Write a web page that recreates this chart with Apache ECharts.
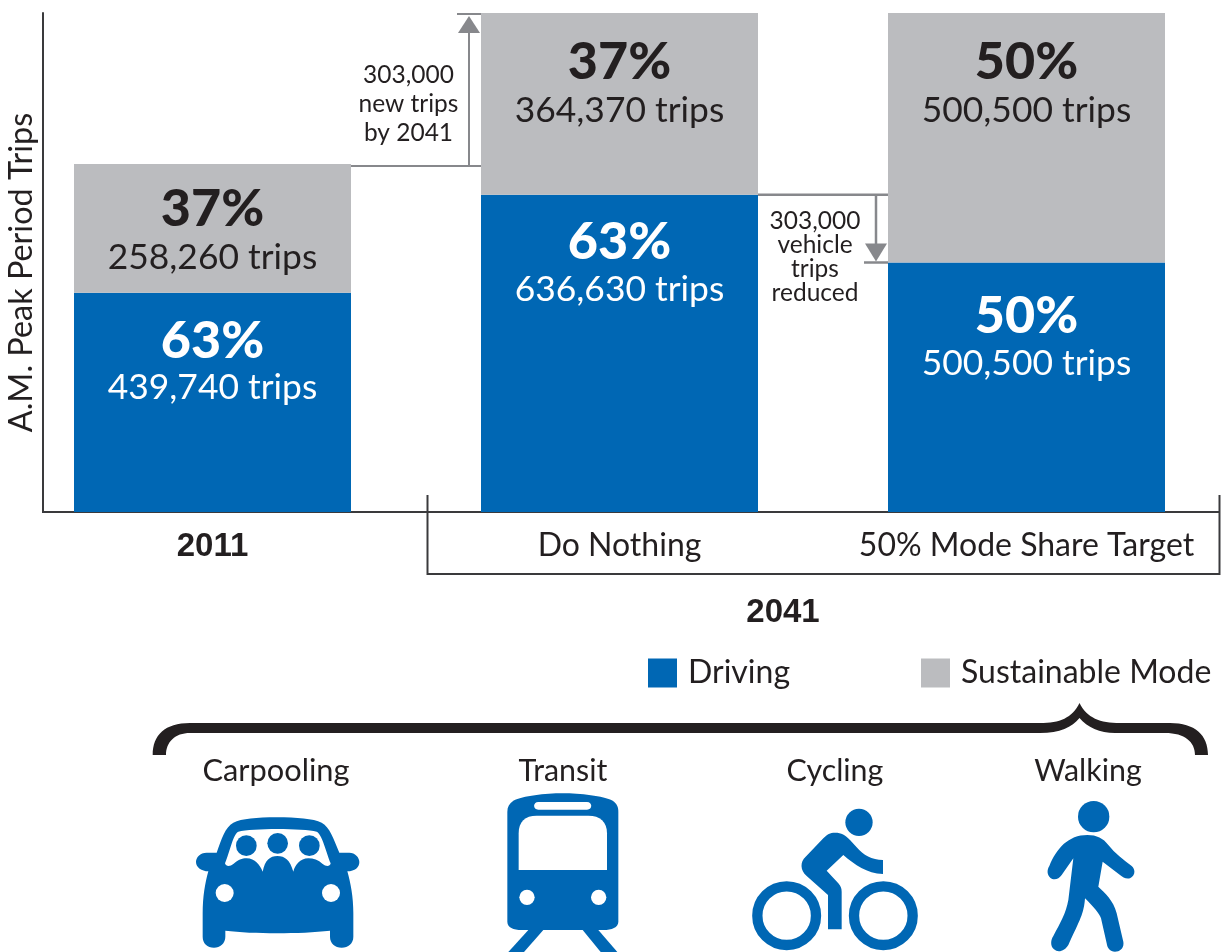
<!DOCTYPE html>
<html>
<head>
<meta charset="utf-8">
<title>A.M. Peak Period Trips</title>
<script src="https://cdn.jsdelivr.net/npm/echarts@6/dist/echarts.min.js"></script>
<style>
    html, body { margin: 0; padding: 0; background: #fff; }
    #main { width: 1225px; height: 952px; }
</style>
</head>
<body>
<div id="main"></div>
<script>
const categories = ['2011', 'Do Nothing', '50% Mode Share Target'];
const drivingTrips = [439740, 636630, 500500];
const sustainableTrips = [258260, 364370, 500500];
const drivingShare = [63, 63, 50];
const sustainableShare = [37, 37, 50];
const modeLabels = ['Carpooling', 'Transit', 'Cycling', 'Walking'];
const totalMax = 1001000;

const BLUE = '#0067b4';
const GREY = '#bbbcbf';
const DARK = '#231f20';
const ARROW = '#87888c';
const FONT = 'Lato';

// 막대별 라벨 세로 위치 보정
const drivingNudge = [1, 1, 7];
const sustainableNudge = [0, 4, 4];

function barLabel(shares, pctStyle) {
    return function (p) {
        return '{' + pctStyle + '|' + shares[p.dataIndex] + '%}\n{trips|' + p.value.toLocaleString('en-US') + ' trips}';
    };
}
function withNudge(values, nudge) {
    return values.map((v, i) => ({ value: v, label: { offset: [0, nudge[i]] } }));
}

// 아이콘은 확대 이미지 좌표 기준 (3배)
function iconGroup(x, y, children) {
    return { type: 'group', x: x, y: y, scaleX: 1 / 3, scaleY: 1 / 3, children: children };
}
function blob(pathData, fill) {
    return { type: 'path', shape: { pathData: pathData }, style: { fill: fill || BLUE } };
}
function dot(cx, cy, r, fill) {
    return { type: 'circle', shape: { cx: cx, cy: cy, r: r }, style: { fill: fill || BLUE } };
}
function ring(cx, cy, r) {
    return { type: 'circle', shape: { cx: cx, cy: cy, r: r }, style: { fill: 'none', stroke: BLUE, lineWidth: 31 } };
}

function renderDecor() {
    const brace = blob('M152.7 755 C152.7 735 165 723 190 723 L1040 723 C1060 723 1072 718 1079.5 703 C1087 718 1100 723 1120 723 L1170 723 C1195 723 1208 735 1208 755 L1195 755 C1195 742 1185 733 1165 733 L1115 733 C1100 733 1087 727 1079.5 718 C1072 727 1060 733 1040 733 L190 733 C175 733 166 742 166 755 Z', DARK);

    const car = iconGroup(140, 710, [
        blob('M410 322 C470 322 520 326 545 338 C570 352 580 385 598 428 L628 428 C645 428 658 442 658 456 C658 472 645 484 622 484 C632 520 640 560 640 610 L640 680 C640 700 625 713 605 713 C585 713 570 700 570 680 L570 662 C480 672 340 672 256 662 L256 680 C256 700 240 713 222 713 C202 713 188 700 188 680 L188 610 C188 560 195 520 205 484 C185 484 168 472 168 456 C168 442 180 428 200 428 L230 428 C245 385 255 352 280 338 C305 326 350 322 410 322 Z'),
        blob('M412 357 C460 357 510 360 530 365 C545 370 560 430 572 460 C570 470 558 470 548 462 C535 450 520 445 505 445 C480 445 465 465 460 485 C450 450 435 438 412 438 C390 438 375 450 368 485 C360 465 345 445 320 445 C305 445 295 450 280 462 C270 470 258 470 255 460 C268 430 280 370 295 365 C315 360 365 357 412 357 Z', '#fff'),
        dot(319, 407, 31), dot(413, 400, 31), dot(508, 407, 31),
        dot(254, 549, 27, '#fff'), dot(573, 549, 27, '#fff')
    ]);

    const train = iconGroup(480, 780, [
        blob('M145 450 L190 450 L132 516 L85 516 Z'),
        blob('M308 450 L355 450 L412 516 L362 516 Z'),
        blob('M248 40 C300 40 370 48 398 62 C410 70 415 80 415 95 L415 425 C415 442 395 450 370 450 L125 450 C100 450 82 442 82 425 L82 95 C82 80 88 70 100 62 C128 48 195 40 248 40 Z'),
        blob('M116 270 L116 160 C116 125 135 107 170 107 L325 107 C360 107 381 125 381 160 L381 270 Z', '#fff'),
        blob('M175 66 L321 66 C338 66 338 89 321 89 L175 89 C158 89 158 66 175 66 Z', '#fff'),
        dot(141, 352, 23, '#fff'), dot(356, 352, 23, '#fff')
    ]);

    const bike = iconGroup(740, 790, [
        dot(357, 97, 41),
        ring(140, 377, 88), ring(430, 377, 88),
        blob('M285 128 C305 128 315 135 330 150 L350 172 C370 195 395 210 429 210 L429 252 C380 250 345 225 310 195 L260 242 L295 280 C302 288 305 295 305 305 L305 418 L264 418 L264 315 L200 258 C180 240 180 215 197 200 L250 145 C262 133 270 128 285 128 Z')
    ]);

    const walker = iconGroup(1030, 790, [
        dot(191, 80, 47),
        blob('M172 135 C200 135 220 145 235 165 C255 190 280 210 305 228 C318 240 315 258 300 265 C288 268 278 262 270 255 L218 215 L205 290 C225 310 250 330 260 370 L280 455 C283 475 270 485 255 485 C240 485 232 475 230 460 L213 385 C208 370 190 350 165 325 C162 370 150 390 115 465 C105 482 85 490 72 478 C60 468 62 450 70 438 C90 400 108 370 115 330 L130 205 L95 255 C85 270 68 272 58 260 C50 250 52 238 58 228 C80 175 115 135 172 135 Z')
    ]);

    return { type: 'group', children: [brace, car, train, bike, walker] };
}

const chart = echarts.init(document.getElementById('main'));

const option = {
    animation: false,
    textStyle: { fontFamily: FONT },
    grid: { left: 9, top: 13, width: 1221, height: 499, outerBoundsMode: 'none' },
    legend: {
        left: 648,
        top: 657,
        padding: 0,
        itemWidth: 29,
        itemHeight: 29,
        itemGap: 131,
        selectedMode: false,
        icon: 'rect',
        data: ['Driving', 'Sustainable Mode'],
        textStyle: { fontFamily: FONT, fontSize: 32, color: DARK, padding: [0, 0, 0, 6] }
    },
    xAxis: {
        type: 'category',
        data: categories,
        axisLine: { show: false },
        axisTick: { show: false },
        axisLabel: {
            interval: 0,
            margin: 18,
            fontFamily: FONT,
            fontSize: 32,
            color: DARK,
            formatter: function (v, i) { return i === 0 ? '{year|' + v + '}' : v; },
            rich: {
                year: { fontFamily: 'Liberation Sans', fontWeight: 'bold', fontSize: 33, color: DARK }
            }
        }
    },
    yAxis: {
        type: 'value',
        min: 0,
        max: totalMax,
        offset: -34,
        name: 'A.M. Peak Period Trips',
        nameLocation: 'middle',
        nameGap: 5,
        nameTextStyle: { fontFamily: FONT, fontSize: 32.4, color: DARK, padding: [0, 20, 0, 0] },
        axisLine: { show: true, lineStyle: { color: '#3a3a3c', width: 2 } },
        axisTick: { show: false },
        axisLabel: { show: false },
        splitLine: { show: false }
    },
    series: [
        {
            name: 'Driving',
            type: 'bar',
            stack: 'trips',
            barWidth: 277,
            itemStyle: { color: BLUE },
            data: withNudge(drivingTrips, drivingNudge),
            label: {
                show: true,
                position: 'insideTop',
                distance: 22,
                align: 'center',
                formatter: barLabel(drivingShare, 'pctW'),
                rich: {
                    pctW: { fontFamily: FONT, fontWeight: 900, fontSize: 52, lineHeight: 50, color: '#fff' },
                    trips: { fontFamily: FONT, fontSize: 35.4, lineHeight: 44, color: '#fff' }
                }
            }
        },
        {
            name: 'Sustainable Mode',
            type: 'bar',
            stack: 'trips',
            barWidth: 277,
            itemStyle: { color: GREY },
            data: withNudge(sustainableTrips, sustainableNudge),
            label: {
                show: true,
                position: 'insideTop',
                distance: 20,
                align: 'center',
                formatter: barLabel(sustainableShare, 'pctD'),
                rich: {
                    pctD: { fontFamily: FONT, fontWeight: 900, fontSize: 52, lineHeight: 50, color: DARK },
                    trips: { fontFamily: FONT, fontSize: 35.4, lineHeight: 48, color: DARK }
                }
            }
        },
        {
            name: 'decor',
            type: 'custom',
            coordinateSystem: 'none',
            silent: true,
            data: [0],
            renderItem: renderDecor
        }
    ]
};
chart.setOption(option);

// 주석 선은 축 스케일에서 위치 계산
const y2011Top = chart.convertToPixel({ yAxisIndex: 0 }, drivingTrips[0] + sustainableTrips[0]);
const yDoNothingTop = chart.convertToPixel({ yAxisIndex: 0 }, drivingTrips[1] + sustainableTrips[1]);
const yDoNothingDriving = chart.convertToPixel({ yAxisIndex: 0 }, drivingTrips[1]);
const yTargetDriving = chart.convertToPixel({ yAxisIndex: 0 }, drivingTrips[2]);
const yBase = chart.convertToPixel({ yAxisIndex: 0 }, 0);

function hline(x1, x2, y, color, w) {
    return { type: 'line', silent: true, shape: { x1: x1, y1: y, x2: x2, y2: y }, style: { stroke: color, lineWidth: w } };
}
function vline(x, y1, y2, color, w) {
    return { type: 'line', silent: true, shape: { x1: x, y1: y1, x2: x, y2: y2 }, style: { stroke: color, lineWidth: w } };
}
function tri(pts) {
    return { type: 'polygon', silent: true, shape: { points: pts }, style: { fill: ARROW } };
}
function note(x, y, str, size, lh) {
    return {
        type: 'text', silent: true, x: x, y: y,
        style: { text: str, fontFamily: FONT, fontSize: size, lineHeight: lh, fill: DARK, textAlign: 'center', textVerticalAlign: 'middle' }
    };
}

chart.setOption({
    graphic: [
        // 기준선, 2041 괄호
        hline(42, 1220, yBase, '#3a3a3c', 2),
        vline(427.5, 495, 575, '#3a3a3c', 2),
        hline(427, 1220, 574, '#3a3a3c', 2),
        vline(1219.5, 495, 575, '#3a3a3c', 2),
        // 303,000 new trips
        hline(351, 481, y2011Top + 2, ARROW, 2),
        vline(469, y2011Top + 2, yDoNothingTop + 18, ARROW, 2),
        tri([[469, yDoNothingTop + 3], [458, yDoNothingTop + 20], [480, yDoNothingTop + 20]]),
        hline(457, 481, yDoNothingTop + 1, ARROW, 2),
        note(408.5, 104.5, '303,000\nnew trips\nby 2041', 24.5, 29),
        // 303,000 vehicle trips reduced
        hline(758, 888, yDoNothingDriving, ARROW, 2.5),
        vline(876, yDoNothingDriving, yTargetDriving - 16, ARROW, 2.5),
        tri([[876, yTargetDriving - 1], [865, yTargetDriving - 19], [887, yTargetDriving - 19]]),
        hline(864, 888, yTargetDriving, ARROW, 2.5),
        note(815, 257, '303,000\nvehicle\ntrips\nreduced', 24.5, 24),
        // 2041, 교통수단 이름
        {
            type: 'text', silent: true, x: 783, y: 612.5,
            style: { text: '2041', fontFamily: 'Liberation Sans', fontWeight: 'bold', fontSize: 33, fill: DARK, textAlign: 'center', textVerticalAlign: 'middle' }
        },
        note(276, 771, modeLabels[0], 30.8, 34),
        note(563, 771, modeLabels[1], 30.4, 34),
        note(835, 771, modeLabels[2], 30.4, 34),
        note(1088, 771, modeLabels[3], 30.4, 34)
    ]
});
</script>
</body>
</html>
